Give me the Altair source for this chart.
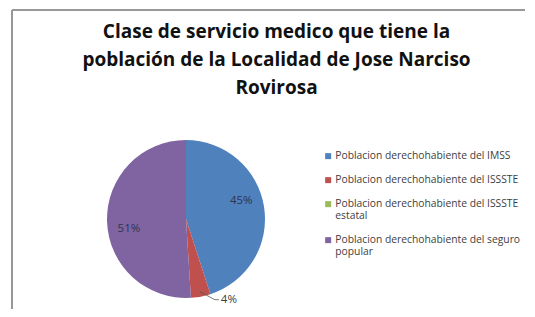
import altair as alt
import pandas as pd

categories = [
    "Poblacion derechohabiente del IMSS",
    "Poblacion derechohabiente del ISSSTE",
    "Poblacion derechohabiente del ISSSTE estatal",
    "Poblacion derechohabiente del seguro popular",
]
values = [45, 4, 0, 51]
slice_order = [0, 1, 2, 3]
colors = ["#4f81bd", "#c0504d", "#9bbb59", "#8064a2"]
title_lines = [
    "Clase de servicio medico que tiene la",
    "población de la Localidad de Jose Narciso",
    "Rovirosa",
]

df = pd.DataFrame({"cat": categories, "value": values, "ord": slice_order})

W, H = 513, 299
CX, CY, R = 174, 209, 79
FONT = "Open Sans"

base = alt.Chart(df)

label_expr = (
    "datum.label == 'Poblacion derechohabiente del ISSSTE estatal' ? "
    "['Poblacion derechohabiente del ISSSTE', 'estatal'] : "
    "datum.label == 'Poblacion derechohabiente del seguro popular' ? "
    "['Poblacion derechohabiente del seguro', 'popular'] : datum.label"
)

pie = base.mark_arc(radius=R, x=CX, y=CY).encode(
    theta=alt.Theta("value:Q", stack=True),
    order=alt.Order("ord:Q"),
    color=alt.Color(
        "cat:N",
        scale=alt.Scale(domain=categories, range=colors),
        legend=alt.Legend(
            title=None,
            orient="none",
            legendX=311,
            legendY=141,
            symbolType="square",
            symbolSize=36,
            symbolStrokeWidth=0,
            labelFont=FONT,
            labelFontSize=10.3,
            labelColor="#404040",
            labelLimit=300,
            labelOffset=2,
            labelExpr=label_expr,
            rowPadding=13,
        ),
    ),
)

inner = base.transform_calculate(
    lab="datum.value >= 10 ? datum.value + '%' : ''"
).mark_text(
    radius=58, thetaOffset=-0.15, x=CX, y=CY, font=FONT, fontSize=11.5, color="#2b3550"
).encode(
    theta=alt.Theta("value:Q", stack=True),
    order=alt.Order("ord:Q"),
    text="lab:N",
)

outer_base = base.transform_joinaggregate(total="sum(value)").transform_window(
    cum="sum(value)", sort=[alt.SortField("ord")]
).transform_calculate(
    mid="(datum.cum - datum.value / 2) / datum.total * 2 * PI",
    x1=f"{CX} + 74 * sin(datum.mid)",
    y1=f"{CY} - 74 * cos(datum.mid)",
    x2="datum.x1 + 15",
    y2="datum.y1 + 8",
    x3="datum.x2 + 4",
    lab="datum.value + '%'",
).transform_filter("datum.value > 0 && datum.value < 10")

leader = outer_base.mark_rule(color="#555555", strokeWidth=0.8).encode(
    x=alt.X("x1:Q", scale=None), y=alt.Y("y1:Q", scale=None),
    x2="x2:Q", y2="y2:Q",
)
stub = outer_base.mark_rule(color="#555555", strokeWidth=0.8).encode(
    x=alt.X("x2:Q", scale=None), y=alt.Y("y2:Q", scale=None),
    x2="x3:Q", y2="y2:Q",
)
outer_text = outer_base.mark_text(
    align="left", baseline="middle", dx=2, font=FONT, fontSize=11.5, color="#404040"
).encode(
    x=alt.X("x3:Q", scale=None), y=alt.Y("y2:Q", scale=None), text="lab:N"
)

border_left = alt.Chart(df).mark_rule(color="#999999", strokeWidth=1.5).encode(
    x=alt.value(0), y=alt.value(0), y2=alt.value(H)
)
border_top = alt.Chart(df).mark_rule(color="#999999", strokeWidth=1.5).encode(
    x=alt.value(0), x2=alt.value(W), y=alt.value(0)
)

chart = alt.layer(border_left, border_top, pie, inner, leader, stub, outer_text).properties(
    width=W,
    height=H,
    padding={"left": 4, "top": 2, "right": 0, "bottom": 0},
    autosize=alt.AutoSizeParams(type="none"),
    title=alt.TitleParams(
        text=title_lines,
        font=FONT,
        fontSize=19,
        fontWeight="bold",
        color="#111111",
        anchor="middle",
        frame="group",
        baseline="top",
        lineHeight=28,
        dy=93,
        dx=8,
    ),
).configure_view(
    stroke="transparent", strokeWidth=0
).configure(background="white")

chart.save("out.html", embed_options={"renderer": "svg", "actions": False})
